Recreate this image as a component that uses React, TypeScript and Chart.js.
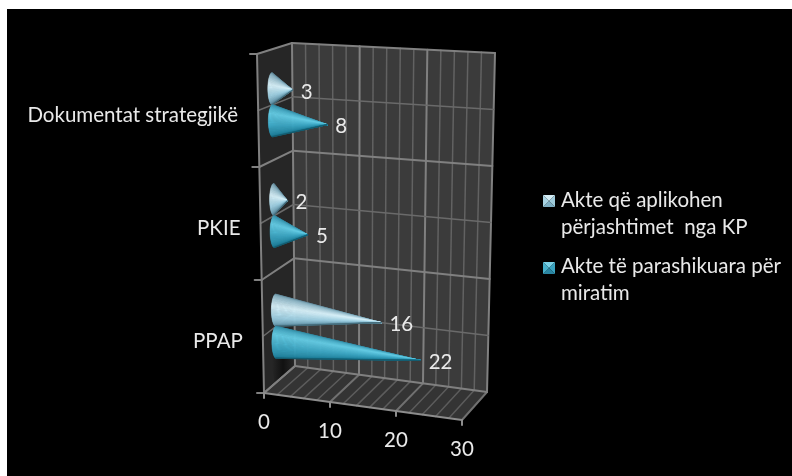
import React, { useEffect, useRef } from "react";
import { Chart, registerables } from "chart.js";

Chart.register(...registerables);

const categories = ["Dokumentat strategjikë", "PKIE", "PPAP"];
const seriesExempt = [3, 2, 16];
const seriesPlanned = [8, 5, 22];
const legendExempt = ["Akte që aplikohen", "përjashtimet  nga KP"];
const legendPlanned = ["Akte të parashikuara për", "miratim"];
const valueMax = 30;
const valueStep = 10;
const minorStep = 2;
const rowDivisions = 6;

const lightStops: [number, string][] = [
  [0, "#527686"], [0.14, "#86aebf"], [0.42, "#d8f1f9"], [0.68, "#9bcde0"], [0.88, "#6797ab"], [1, "#3f6372"],
];
const blueStops: [number, string][] = [
  [0, "#2d7a92"], [0.16, "#45a6c0"], [0.34, "#66cde5"], [0.62, "#3ba4c1"], [0.88, "#1f7f9a"], [1, "#145669"],
];

const FONT = "Lato, Carlito, sans-serif";
const TEXT = "#e9e9e9";
const depthOfBars = 0.42;

type Pt = [number, number];
const corners = {
  ftl: [257, 54] as Pt, ftr: [466, 66] as Pt, fbl: [264, 393] as Pt, fbr: [462, 420] as Pt,
  btl: [292, 43] as Pt, btr: [495, 53] as Pt, bbl: [295, 366] as Pt, bbr: [487, 392] as Pt,
};
const mix = (a: Pt, b: Pt, t: number): Pt => [a[0] + (b[0] - a[0]) * t, a[1] + (b[1] - a[1]) * t];
const project = (u: number, v: number, w: number): Pt => {
  const f = mix(mix(corners.ftl, corners.ftr, u), mix(corners.fbl, corners.fbr, u), v);
  const b = mix(mix(corners.btl, corners.btr, u), mix(corners.bbl, corners.bbr, u), v);
  return mix(f, b, w);
};

const hex = (c: string) => [1, 3, 5].map((i) => parseInt(c.slice(i, i + 2), 16));
const shade = (stops: [number, string][], s: number) => {
  for (let i = 1; i < stops.length; i++) {
    if (s <= stops[i][0]) {
      const t = (s - stops[i - 1][0]) / (stops[i][0] - stops[i - 1][0]);
      const a = hex(stops[i - 1][1]);
      const b = hex(stops[i][1]);
      return `rgb(${a.map((x, k) => Math.round(x + (b[k] - x) * t)).join(",")})`;
    }
  }
  return stops[stops.length - 1][1];
};

const line = (ctx: CanvasRenderingContext2D, a: Pt, b: Pt, color: string, width: number) => {
  ctx.strokeStyle = color;
  ctx.lineWidth = width;
  ctx.beginPath();
  ctx.moveTo(a[0], a[1]);
  ctx.lineTo(b[0], b[1]);
  ctx.stroke();
};
const poly = (ctx: CanvasRenderingContext2D, pts: Pt[], fill: any) => {
  ctx.fillStyle = fill;
  ctx.beginPath();
  pts.forEach((p, i) => (i ? ctx.lineTo(p[0], p[1]) : ctx.moveTo(p[0], p[1])));
  ctx.closePath();
  ctx.fill();
};

const cone = (ctx: CanvasRenderingContext2D, base: Pt, tip: Pt, a: number, b: number, stops: [number, string][]) => {
  const N = 48;
  for (let i = 0; i < N; i++) {
    const t0 = -Math.PI / 2 + (Math.PI * i) / N;
    const t1 = -Math.PI / 2 + (Math.PI * (i + 1)) / N;
    const p0: Pt = [base[0] - a * Math.cos(t0), base[1] + b * Math.sin(t0)];
    const p1: Pt = [base[0] - a * Math.cos(t1), base[1] + b * Math.sin(t1)];
    const color = shade(stops, (i + 0.5) / N);
    ctx.fillStyle = color;
    ctx.strokeStyle = color;
    ctx.lineWidth = 0.5;
    ctx.beginPath();
    ctx.moveTo(tip[0], tip[1]);
    ctx.lineTo(p0[0], p0[1]);
    ctx.lineTo(p1[0], p1[1]);
    ctx.closePath();
    ctx.fill();
    ctx.stroke();
  }
};

const swatch = (ctx: CanvasRenderingContext2D, x: number, y: number, s: number, cols: string[]) => {
  const c: Pt = [x + s / 2, y + s / 2];
  poly(ctx, [[x, y], [x + s, y], c], cols[0]);
  poly(ctx, [[x + s, y], [x + s, y + s], c], cols[1]);
  poly(ctx, [[x, y + s], [x + s, y + s], c], cols[2]);
  poly(ctx, [[x, y], [x, y + s], c], cols[3]);
};

const scene = {
  id: "scene",
  beforeDraw(chart: any) {
    const { ctx } = chart;
    ctx.save();
    ctx.fillStyle = "#000000";
    ctx.fillRect(7, 9, 785, 467);
    ctx.restore();
  },
  beforeDatasetsDraw(chart: any) {
    const { ctx } = chart;
    ctx.save();
    ctx.lineCap = "round";
    const c = corners;
    poly(ctx, [c.btl, c.btr, c.bbr, c.bbl], "#3b3b3b");
    poly(ctx, [c.ftl, c.btl, c.bbl, c.fbl], "#262626");
    poly(ctx, [c.fbl, c.fbr, c.bbr, c.bbl], "#343434");

    // shadow on the side wall
    const g = ctx.createLinearGradient(272, 0, 294, 0);
    g.addColorStop(0, "rgba(10,10,10,0)");
    g.addColorStop(0.5, "rgba(10,10,10,0.75)");
    g.addColorStop(1, "rgba(10,10,10,0)");
    poly(ctx, [project(0, 0.9, 0.2), project(0, 0.9, 1), project(0, 1, 1), project(0, 1, 0.35)], g);

    const area = chart.chartArea;
    const x = chart.scales.x;
    const toU = (val: number) => (x.getPixelForValue(val) - area.left) / (area.right - area.left);

    for (let val = 0; val <= valueMax; val += minorStep) {
      const u = toU(val);
      const major = val % valueStep === 0;
      const col = major ? "#808080" : "#626262";
      const wid = major ? 2 : 1.5;
      line(ctx, project(u, 0, 1), project(u, 1, 1), col, wid);
      line(ctx, project(u, 1, 1), project(u, 1, 0), major ? "#707070" : "#5c5c5c", wid);
    }
    for (let k = 0; k <= rowDivisions; k++) {
      const v = k / rowDivisions;
      const major = k % 2 === 0;
      const col = major ? "#808080" : "#6a6a6a";
      const wid = major ? 2 : 1.5;
      line(ctx, project(0, v, 1), project(1, v, 1), col, wid);
      line(ctx, project(0, v, 1), project(0, v, 0), col, wid);
      if (major) {
        const p = project(0, v, 0);
        line(ctx, p, [p[0] - 7, p[1]], "#808080", 2);
      }
    }
    line(ctx, project(0, 0, 0), project(0, 1, 0), "#808080", 2);
    line(ctx, project(0, 1, 0), project(1, 1, 0), "#8c8c8c", 2);
    (x.ticks as any[]).forEach((t) => {
      const p = project(toU(t.value), 1, 0);
      line(ctx, p, [p[0], p[1] + 5], "#8c8c8c", 2);
    });
    ctx.restore();
  },
  afterDatasetsDraw(chart: any) {
    const { ctx } = chart;
    const area = chart.chartArea;
    const W = area.right - area.left;
    const H = area.bottom - area.top;
    const y = chart.scales.y;
    const x = chart.scales.x;
    const stops = [lightStops, blueStops];
    ctx.save();
    ctx.textBaseline = "middle";

    chart.data.datasets.forEach((ds: any, di: number) => {
      const meta = chart.getDatasetMeta(di);
      meta.data.forEach((el: any) => {
        const v = (el.y - area.top) / H;
        const u = (el.x - area.left) / W;
        const base = project(0, v, depthOfBars);
        const tip = project(u, v, depthOfBars);
        const top = project(0, v - el.height / 2 / H, depthOfBars);
        const bot = project(0, v + el.height / 2 / H, depthOfBars);
        cone(ctx, base, tip, 4.5, (bot[1] - top[1]) / 2, stops[di]);
      });
    });
    ctx.font = `20.5px ${FONT}`;
    ctx.fillStyle = TEXT;
    ctx.textAlign = "left";
    chart.data.datasets.forEach((ds: any, di: number) => {
      const meta = chart.getDatasetMeta(di);
      meta.data.forEach((el: any, i: number) => {
        const tip = project((el.x - area.left) / W, (el.y - area.top) / H, depthOfBars);
        ctx.fillText(String(ds.data[i]), tip[0] + 8, tip[1] + 2);
      });
    });

    // value axis labels
    ctx.textAlign = "center";
    (x.ticks as any[]).forEach((t) => {
      const p = project((x.getPixelForValue(t.value) - area.left) / W, 1, 0);
      ctx.fillText(String(t.value), p[0], p[1] + 29);
    });

    // category labels
    ctx.textAlign = "right";
    categories.forEach((label, i) => {
      const p = project(0, (y.getPixelForValue(i) - area.top) / H, 0);
      ctx.fillText(label, p[0] - 20, p[1] + 5);
    });

    // legend
    ctx.textAlign = "left";
    legendExempt.forEach((t, i) => ctx.fillText(t, 561, 200 + i * 27));
    legendPlanned.forEach((t, i) => ctx.fillText(t, 561, 266 + i * 27));
    swatch(ctx, 543, 195, 12, ["#d3ecf4", "#9fcbdb", "#7fb0c4", "#a9d4e3"]);
    swatch(ctx, 543, 262, 12, ["#79d0e6", "#3aa3c0", "#2a86a3", "#46afca"]);
    ctx.restore();
  },
};

export default function App() {
  const ref = useRef<HTMLCanvasElement>(null);
  useEffect(() => {
    const chart = new Chart(ref.current as HTMLCanvasElement, {
      type: "bar",
      data: {
        labels: categories,
        datasets: [
          { label: legendExempt.join(" "), data: seriesExempt, backgroundColor: "transparent", borderWidth: 0 },
          { label: legendPlanned.join(" "), data: seriesPlanned, backgroundColor: "transparent", borderWidth: 0 },
        ],
      },
      options: {
        indexAxis: "y",
        responsive: false,
        animation: false,
        devicePixelRatio: 1,
        categoryPercentage: 0.58,
        barPercentage: 1,
        layout: { padding: { left: 264, top: 54, right: 330, bottom: 83 } },
        scales: {
          x: { display: false, min: 0, max: valueMax, ticks: { stepSize: valueStep } },
          y: { display: false },
        },
        plugins: { legend: { display: false }, tooltip: { enabled: false } },
      } as any,
      plugins: [scene],
    });
    return () => chart.destroy();
  }, []);
  return (
    <canvas
      ref={ref}
      width={792}
      height={476}
      style={{ position: "absolute", left: 0, top: 0, width: 792, height: 476, display: "block" }}
    />
  );
}
